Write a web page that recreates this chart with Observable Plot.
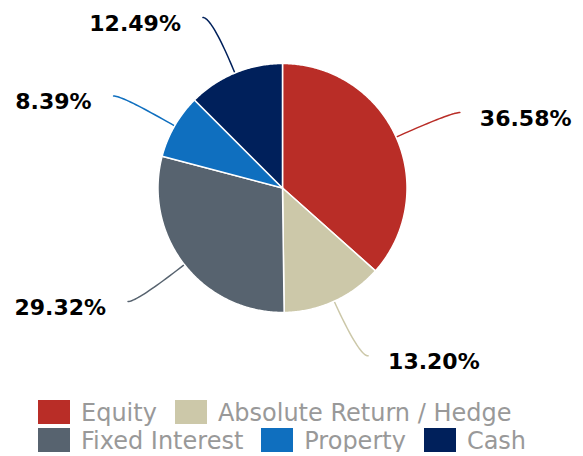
<!DOCTYPE html>
<html><head><meta charset="utf-8">
<script src="https://cdn.jsdelivr.net/npm/d3@7"></script>
<script src="https://cdn.jsdelivr.net/npm/@observablehq/plot@0.6"></script>
<style>
body{margin:0;background:#fff;font-family:"DejaVu Sans",sans-serif;}
svg{display:block;}
#legend{margin-left:38px;width:530px;display:flex;flex-wrap:wrap;column-gap:18px;row-gap:4px;}
.item{display:flex;align-items:flex-start;height:24px;font-size:24px;line-height:24px;color:#999;white-space:nowrap;}
.item span.t{padding-top:1px;}
.sw{width:32px;height:24px;margin-right:11px;flex:none;}
</style></head><body><div id="chart"></div><div id="legend"></div><script>
const categories = ["Equity", "Absolute Return / Hedge", "Fixed Interest", "Property", "Cash"];
const values = [36.58, 13.20, 29.32, 8.39, 12.49];
const colors = ["#B92D27", "#CCC8A9", "#57636F", "#0F6FBF", "#00205B"];
const labels = values.map(v => v.toFixed(2) + "%");

// layout (pixels)
const W = 583, H = 400, CX = 282, CY = 187.5, R = 124.5;

const arcs = d3.pie().sort(null).value(d => d)(values);

// slice outlines in radius units (x = sin a, y = cos a, up positive)
const slicePts = [];
arcs.forEach((a, i) => {
  const cat = categories[i];
  slicePts.push({cat, x: 0, y: 0});
  const n = Math.max(8, Math.ceil((a.endAngle - a.startAngle) / 0.01));
  for (let k = 0; k <= n; k++) {
    const t = a.startAngle + (a.endAngle - a.startAngle) * k / n;
    slicePts.push({cat, x: Math.sin(t), y: Math.cos(t)});
  }
  slicePts.push({cat, x: 0, y: 0});
});

// connectors and labels
const connPts = [];
const labelPts = [];
const OUT = 1.482, HOR = 9 / R, GAP_R = 20 / R, GAP_L = 22 / R;
arcs.forEach((a, i) => {
  const cat = categories[i];
  const m = (a.startAngle + a.endAngle) / 2;
  const sx = Math.sin(m), sy = Math.cos(m);
  const right = sx >= 0;
  const P = [sx, sy], C = [sx * OUT, sy * OUT], E = [C[0] + (right ? HOR : -HOR), C[1]];
  for (let k = 0; k <= 24; k++) {
    const t = k / 24, u = 1 - t;
    connPts.push({cat,
      x: u * u * P[0] + 2 * u * t * C[0] + t * t * E[0],
      y: u * u * P[1] + 2 * u * t * C[1] + t * t * E[1]});
  }
  labelPts.push({cat, label: labels[i], x: E[0] + (right ? GAP_R : -GAP_L), y: E[1], anchor: right ? "start" : "end"});
});

const chart = Plot.plot({
  width: W, height: H,
  margin: 0,
  style: {fontFamily: "DejaVu Sans", background: "#fff"},
  x: {domain: [-CX / R, (W - CX) / R], axis: null},
  y: {domain: [-(H - CY) / R, CY / R], axis: null},
  color: {domain: categories, range: colors},
  marks: [
    Plot.line(connPts, {x: "x", y: "y", z: "cat", stroke: "cat", strokeWidth: 1.5, curve: "linear"}),
    Plot.line(slicePts, {x: "x", y: "y", z: "cat", fill: "cat", stroke: "#fff", strokeWidth: 1.5, strokeLinejoin: "round"}),
    Plot.text(labelPts.filter(d => d.anchor === "start"), {x: "x", y: "y", text: "label", textAnchor: "start", lineAnchor: "middle", dy: 6, fontSize: 22, fontWeight: "bold", fill: "#000"}),
    Plot.text(labelPts.filter(d => d.anchor === "end"), {x: "x", y: "y", text: "label", textAnchor: "end", lineAnchor: "middle", dy: 6, fontSize: 22, fontWeight: "bold", fill: "#000"})
  ]
});
document.getElementById("chart").appendChild(chart);

const legend = document.getElementById("legend");
categories.forEach((c, i) => {
  const item = document.createElement("div");
  item.className = "item";
  const sw = document.createElement("div");
  sw.className = "sw";
  sw.style.background = colors[i];
  const t = document.createElement("span");
  t.className = "t";
  t.textContent = c;
  item.appendChild(sw);
  item.appendChild(t);
  legend.appendChild(item);
});
</script></body></html>
